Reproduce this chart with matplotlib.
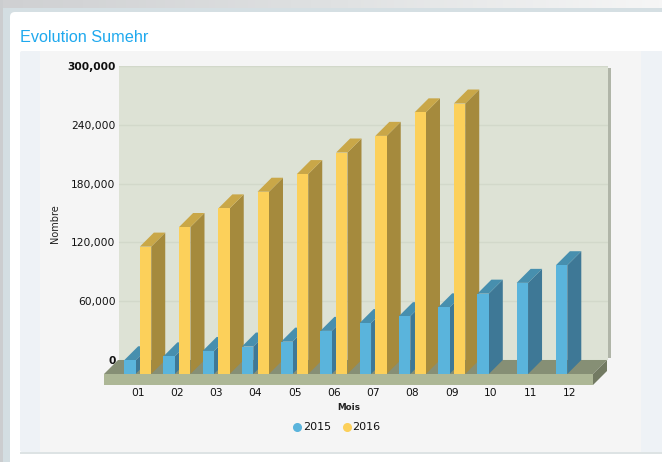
import numpy as np
import matplotlib
matplotlib.use('Agg')
import matplotlib.pyplot as plt
from matplotlib.lines import Line2D
from matplotlib.patches import FancyBboxPatch, Polygon, Rectangle

# ── Data ───────────────────────────────────────────────────────────────────
MONTHS = ['01', '02', '03', '04', '05', '06', '07', '08', '09', '10', '11', '12']
VALUES_2015 = [14000, 18000, 23500, 28000, 33000, 44000, 52000, 59000, 68000, 82000, 93000, 111000]
VALUES_2016 = [130000, 150000, 169000, 186000, 204000, 226000, 243000, 267000, 276000]
Y_TICKS = [0, 60000, 120000, 180000, 240000, 300000]

W, H = 662, 462
STEP_PX = 39.25   # px between two months
SCALE_PX = 294 / 300000   # px per unit of value
DEPTH_PX = 14
BAR_W = 0.29
DEPTH_X = DEPTH_PX / STEP_PX
DEPTH_Y = DEPTH_PX / SCALE_PX


def px_axes(fig, x0, y0, x1, y1, **kw):
    """Axes placed with pixel coords, y going down from the top of the image."""
    return fig.add_axes([x0 / W, 1 - y1 / H, (x1 - x0) / W, (y1 - y0) / H], **kw)


def bar_3d(ax, x, val, front, top, side, z):
    left, right = x - BAR_W / 2, x + BAR_W / 2
    ax.bar(x, val, width=BAR_W, color=front, zorder=z + 0.2)
    ax.add_patch(Polygon([(right, 0), (right + DEPTH_X, DEPTH_Y),
                          (right + DEPTH_X, val + DEPTH_Y), (right, val)],
                         fc=side, ec='none', zorder=z, clip_on=False))
    ax.add_patch(Polygon([(left, val), (left + DEPTH_X, val + DEPTH_Y),
                          (right + DEPTH_X, val + DEPTH_Y), (right, val)],
                         fc=top, ec='none', zorder=z, clip_on=False))


fig = plt.figure(figsize=(W / 100, H / 100), dpi=100, facecolor='white')

# ── Page around the chart ──────────────────────────────────────────────────
bg = fig.add_axes([0, 0, 1, 1])
bg.set_xlim(0, W)
bg.set_ylim(H, 0)
bg.axis('off')
grad = np.linspace(0, 1, 200)[None, :]
bg.imshow(grad, extent=(0, W, 8, 0), cmap=matplotlib.colors.LinearSegmentedColormap.from_list(
    'top', ['#cfd0d2', '#dfe1e2', '#f6f6f6']), aspect='auto', zorder=0)
bg.set_xlim(0, W)
bg.set_ylim(H, 0)
bg.add_patch(Rectangle((0, 8), W, 12, fc='#d5dfe3', ec='none', zorder=1))
bg.add_patch(Rectangle((0, 0), 3, H, fc='#cbcdcf', ec='none', zorder=1))
bg.add_patch(Rectangle((3, 8), 7, H, fc='#d3dee2', ec='none', zorder=1))
bg.add_patch(FancyBboxPatch((14, 16), W + 20, H, boxstyle='round,pad=4,rounding_size=5',
                            fc='white', ec='none', zorder=2))
bg.add_patch(FancyBboxPatch((22, 53), W, 399 - 2, boxstyle='round,pad=2,rounding_size=2',
                            fc='#eef2f6', ec='none', zorder=3))
bg.add_patch(Rectangle((20, 452), W, 2, fc='#dde3e4', ec='none', zorder=2.5))
bg.add_patch(Rectangle((40, 51), 601, 401, fc='#f5f5f5', ec='none', zorder=4))
bg.text(20, 42, 'Evolution Sumehr', family='Liberation Sans', fontsize=11.7,
        color='#1fa9ee', ha='left', va='baseline', zorder=5)

# ── Back wall ──────────────────────────────────────────────────────────────
bg.add_patch(Rectangle((608, 68), 3, 290, fc='#b0b5a8', ec='none', zorder=5))
wall = px_axes(fig, 119, 66, 608, 360, facecolor='#dde2d5')
wall.set_ylim(0, 300000)
wall.set_xlim(0, 1)
wall.set_xticks([])
wall.set_yticks(Y_TICKS)
wall.set_yticklabels([f'{t:,}' for t in Y_TICKS], fontsize=7.7, color='#111111')
for lab, t in zip(wall.get_yticklabels(), Y_TICKS):
    if t in (0, 300000):
        lab.set_fontweight('bold')
wall.tick_params(axis='y', length=0, pad=2.5)
wall.grid(axis='y', color='#d2d8ca', linewidth=1.0)
wall.set_axisbelow(True)
wall.spines[:].set_visible(False)
wall.set_ylabel('Nombre', fontsize=7, color='#222222')
wall.yaxis.set_label_coords(-0.12, 0.463)

# ── Floor and bars, on the front plane ─────────────────────────────────────
ax = px_axes(fig, 104, 80, 593, 374)
ax.patch.set_visible(False)
x0 = (104 - 137.7) / STEP_PX
x1 = (593 - 137.7) / STEP_PX
ax.set_xlim(x0, x1)
ax.set_ylim(0, 300000)
ax.spines[:].set_visible(False)
ax.set_yticks([])
slab = 11 / SCALE_PX
ax.add_patch(Polygon([(x0, 0), (x0 + DEPTH_X, DEPTH_Y), (x1 + DEPTH_X, DEPTH_Y), (x1, 0)],
                     fc='#868f75', ec='none', zorder=1, clip_on=False))
ax.add_patch(Rectangle((x0, -slab), x1 - x0, slab, fc='#adb796', ec='none', zorder=1, clip_on=False))
ax.add_patch(Polygon([(x1, 0), (x1 + DEPTH_X, DEPTH_Y), (x1 + DEPTH_X, DEPTH_Y - slab), (x1, -slab)],
                     fc='#727a62', ec='none', zorder=1, clip_on=False))

for i, v in enumerate(VALUES_2015):
    bar_3d(ax, i - 0.2, v, '#5ab4dc', '#478fae', '#3e7896', 2 + i)
for i, v in enumerate(VALUES_2016):
    bar_3d(ax, i + 0.2, v, '#fcd05a', '#c9a748', '#a58a3d', 2.5 + i)

ax.set_xticks(range(len(MONTHS)))
ax.set_xticklabels(MONTHS, fontsize=7.7, color='#111111')
ax.tick_params(axis='x', length=0, pad=10)
ax.set_xlabel('Mois', fontsize=6.3, fontweight='bold', color='#222222', labelpad=4)

handles = [Line2D([], [], ls='', marker='o', ms=5.5, color='#5ab4dc', label='2015'),
           Line2D([], [], ls='', marker='o', ms=5.5, color='#fcd05a', label='2016')]
fig.legend(handles=handles, loc='center', bbox_to_anchor=(333.5 / W, 1 - 427.5 / H), ncol=2,
           frameon=False, fontsize=8, handletextpad=-0.46, columnspacing=0.34,
           labelcolor='#111111', borderpad=0)

fig.savefig('out.png', dpi=100)
